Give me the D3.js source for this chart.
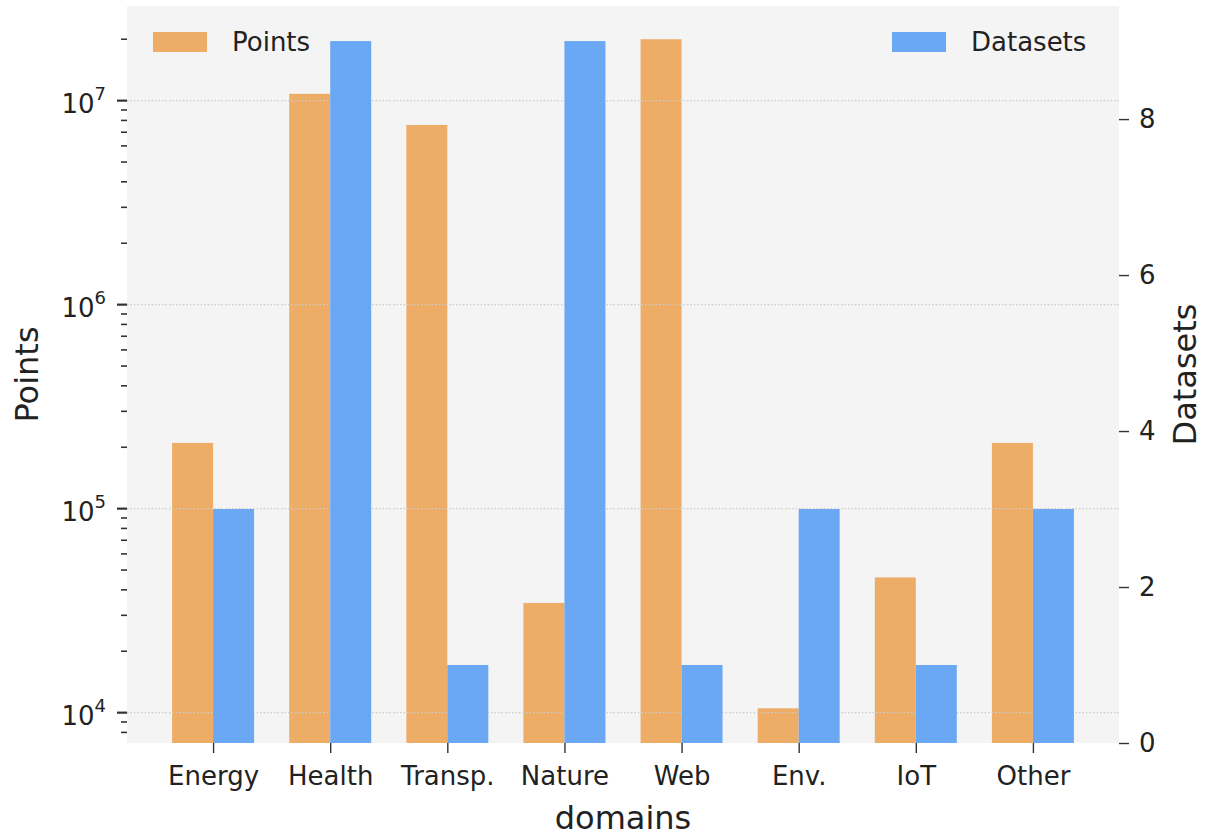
<!DOCTYPE html>
<html>
<head>
<meta charset="utf-8">
<script src="https://cdn.jsdelivr.net/npm/d3@7"></script>
<style>
  body { margin: 0; background: #fff; }
  text { font-family: "DejaVu Sans", sans-serif; fill: #222; }
</style>
</head>
<body>
<svg width="1218" height="840"></svg>
<script>
let domains = ["Energy", "Health", "Transp.", "Nature", "Web", "Env.", "IoT", "Other"];
let points = [210000, 10800000, 7600000, 34500, 20000000, 10500, 46000, 210000];
let datasets = [3, 9, 1, 9, 1, 3, 1, 3];
let leftTicks = [1e4, 1e5, 1e6, 1e7];
let rightTicks = [0, 2, 4, 6, 8];

let svg = d3.select("svg");
let plotLeft = 127, plotRight = 1119, plotTop = 6, plotBottom = 743;
let barW = 0.35;

// x in data units like matplotlib: index position, with 5% margins
let x = d3.scaleLinear().domain([-0.735, 7.735]).range([plotLeft, plotRight]);
let yL = d3.scaleLog().domain([7100, 2.91e7]).range([plotBottom, plotTop]);
let yR = d3.scaleLinear().domain([0, 9.45]).range([plotBottom, plotTop]);

svg.append("rect")
    .attr("x", plotLeft).attr("y", plotTop)
    .attr("width", plotRight - plotLeft).attr("height", plotBottom - plotTop)
    .attr("fill", "#f4f4f4");

// orange bars (first axis)
svg.append("g").selectAll("rect")
    .data(points)
    .join("rect")
    .attr("x", function (d, i) { return x(i - barW); })
    .attr("width", x(barW) - x(0))
    .attr("y", function (d) { return yL(d); })
    .attr("height", function (d) { return plotBottom - yL(d); })
    .attr("fill", "#edad67");

// grid lines on the log axis
svg.append("g").selectAll("line")
    .data(leftTicks)
    .join("line")
    .attr("x1", plotLeft).attr("x2", plotRight)
    .attr("y1", function (d) { return yL(d); })
    .attr("y2", function (d) { return yL(d); })
    .attr("stroke", "#cccccc")
    .attr("stroke-width", 1.2)
    .attr("stroke-dasharray", "1.5,2");

// blue bars (twin axis, drawn on top)
svg.append("g").selectAll("rect")
    .data(datasets)
    .join("rect")
    .attr("x", function (d, i) { return x(i); })
    .attr("width", x(barW) - x(0))
    .attr("y", function (d) { return yR(d); })
    .attr("height", function (d) { return plotBottom - yR(d); })
    .attr("fill", "#6aa8f4");

// left axis: major + minor ticks
let minor = [];
for (let e = 3; e <= 7; e++) {
    for (let m = 2; m <= 9; m++) {
        let v = m * Math.pow(10, e);
        if (v >= 7100 && v <= 2.91e7) minor.push(v);
    }
}
let gl = svg.append("g");
gl.selectAll("line.minor")
    .data(minor)
    .join("line")
    .attr("class", "minor")
    .attr("x1", plotLeft - 6).attr("x2", plotLeft)
    .attr("y1", function (d) { return yL(d); })
    .attr("y2", function (d) { return yL(d); })
    .attr("stroke", "#333").attr("stroke-width", 1.6);
gl.selectAll("line.major")
    .data(leftTicks)
    .join("line")
    .attr("class", "major")
    .attr("x1", plotLeft - 10).attr("x2", plotLeft)
    .attr("y1", function (d) { return yL(d); })
    .attr("y2", function (d) { return yL(d); })
    .attr("stroke", "#333").attr("stroke-width", 2.2);
let lbl = gl.selectAll("text")
    .data(leftTicks)
    .join("text")
    .attr("x", plotLeft - 21)
    .attr("y", function (d) { return yL(d) + 12; })
    .attr("text-anchor", "end")
    .attr("font-size", 26);
lbl.append("tspan").text("10");
lbl.append("tspan")
    .attr("dy", -13).attr("font-size", 18)
    .text(function (d) { return Math.round(Math.log10(d)); });

// right axis
let gr = svg.append("g").attr("transform", "translate(" + plotRight + ",0)");
gr.call(d3.axisRight(yR).tickValues(rightTicks).tickSize(10).tickPadding(10));
gr.select(".domain").remove();
gr.selectAll(".tick line").attr("stroke", "#333").attr("stroke-width", 1.4);
gr.selectAll(".tick text").attr("font-size", 26).attr("font-family", "DejaVu Sans").attr("fill", "#222");

// bottom axis
let gb = svg.append("g").attr("transform", "translate(0," + plotBottom + ")");
gb.call(d3.axisBottom(x).tickValues(d3.range(domains.length))
    .tickFormat(function (i) { return domains[i]; })
    .tickSize(10).tickPadding(14));
gb.select(".domain").remove();
gb.selectAll(".tick line").attr("stroke", "#333").attr("stroke-width", 1.4);
gb.selectAll(".tick text").attr("font-size", 26).attr("font-family", "DejaVu Sans").attr("fill", "#222");

// axis titles
svg.append("text")
    .attr("transform", "translate(38," + ((plotTop + plotBottom) / 2) + ") rotate(-90)")
    .attr("text-anchor", "middle").attr("font-size", 32)
    .text("Points");
svg.append("text")
    .attr("transform", "translate(1196," + ((plotTop + plotBottom) / 2) + ") rotate(-90)")
    .attr("text-anchor", "middle").attr("font-size", 32)
    .text("Datasets");
svg.append("text")
    .attr("x", (plotLeft + plotRight) / 2).attr("y", 829)
    .attr("text-anchor", "middle").attr("font-size", 32)
    .text("domains");

// legends
svg.append("rect").attr("x", 153).attr("y", 32).attr("width", 54).attr("height", 20).attr("fill", "#edad67");
svg.append("text").attr("x", 232).attr("y", 51).attr("font-size", 26).text("Points");
svg.append("rect").attr("x", 892).attr("y", 32).attr("width", 54).attr("height", 20).attr("fill", "#6aa8f4");
svg.append("text").attr("x", 971).attr("y", 51).attr("font-size", 26).text("Datasets");
</script>
</body>
</html>
